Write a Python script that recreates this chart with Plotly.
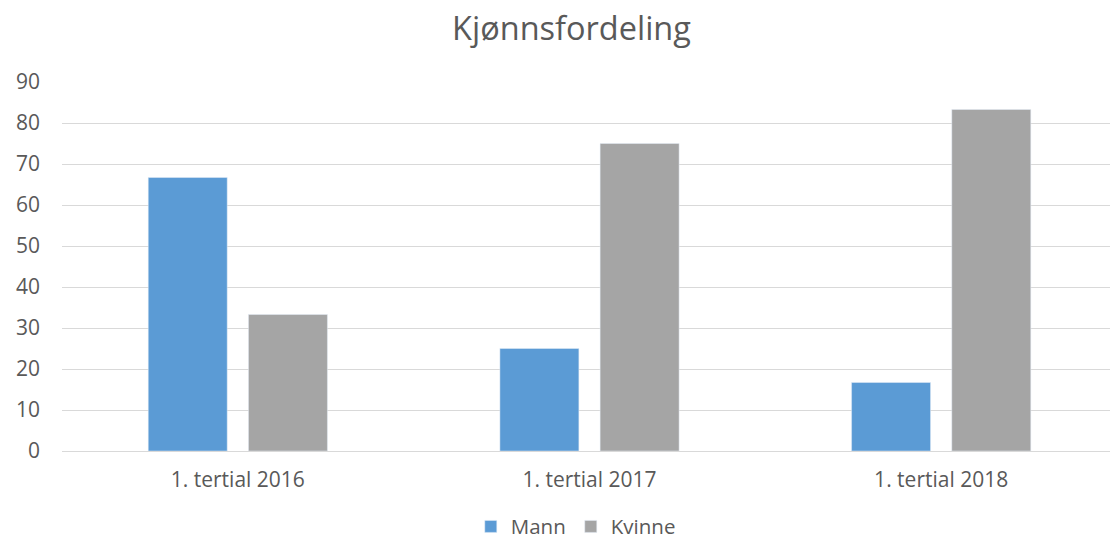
import plotly.graph_objects as go

categories = ["1. tertial 2016", "1. tertial 2017", "1. tertial 2018"]
mann = [66.7, 25.0, 16.7]
kvinne = [33.3, 75.0, 83.3]
y_ticks = [0, 10, 20, 30, 40, 50, 60, 70, 80, 90]

font_family = "Open Sans, Liberation Sans, sans-serif"
txt = "#595959"

fig = go.Figure()
fig.add_trace(go.Bar(name="Mann", x=categories, y=mann, marker_color="#5B9BD5"))
fig.add_trace(go.Bar(name="Kvinne", x=categories, y=kvinne, marker_color="#A5A5A5"))

fig.update_layout(
    width=1143, height=543,
    margin=dict(l=62, r=26, t=82, b=92, autoexpand=False),
    paper_bgcolor="white", plot_bgcolor="white",
    barmode="group", bargap=0.43, bargroupgap=0.212,
    title=dict(text="Kjønnsfordeling", x=0.5, xanchor="center", y=0.948, yanchor="middle",
               font=dict(family=font_family, size=32.5, color=txt)),
    font=dict(family=font_family, size=21, color=txt),
    showlegend=True,
    legend=dict(orientation="h", x=0.487, xanchor="center", y=-0.259, yanchor="bottom",
                font=dict(size=20.5, color=txt), itemwidth=30, traceorder="normal",
                borderwidth=0, tracegroupgap=0),
)
fig.update_yaxes(range=[0, 90], tickvals=y_ticks, showgrid=True, gridcolor="#D9D9D9", gridwidth=1,
                 zeroline=False, showline=False, ticks="", ticklabelstandoff=21, automargin=False,
                 tickfont=dict(size=21, color=txt))
fig.update_xaxes(showline=True, linecolor="#D9D9D9", linewidth=1, ticks="", ticklabelstandoff=10,
                 automargin=False, tickfont=dict(size=21, color=txt))

fig.write_html("out.html", config={"displayModeBar": False},
               post_script="document.body.style.margin='0';document.body.style.overflow='hidden';")
